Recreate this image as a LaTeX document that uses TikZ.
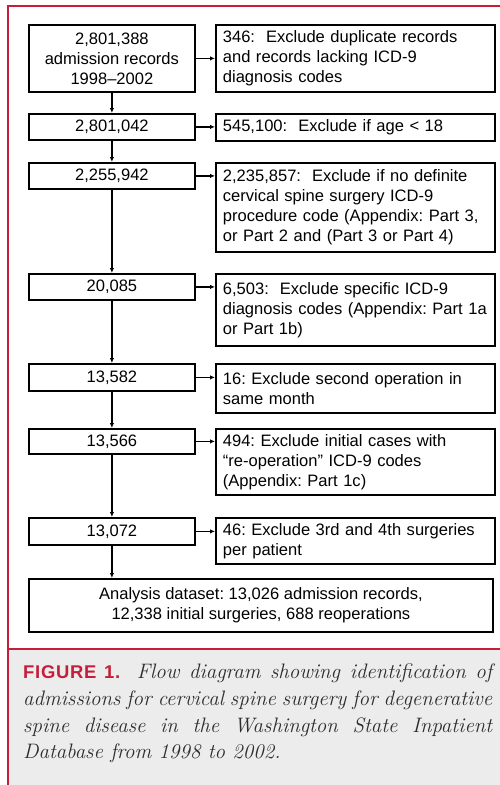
\documentclass[tikz,border=0pt]{standalone}
\usepackage{fontspec}
\setsansfont{Liberation Sans}
\newfontfamily\figfont[LetterSpace=4]{Liberation Sans}
\usetikzlibrary{arrows.meta}
\definecolor{framered}{RGB}{196,30,58}
\definecolor{capgray}{RGB}{236,236,236}
\definecolor{captext}{RGB}{45,45,45}
\begin{document}
\begin{tikzpicture}[
	                 x = 1bp,
	                 y = -1bp,
	   countbox/.style = {draw, line width=1.8bp, anchor=north west, align=center,
	                      minimum width=166bp, inner sep=0pt,
	                      font=\sffamily\frenchspacing\fontsize{16.6}{20}\selectfont},
	    exclbox/.style = {draw, line width=1.8bp, anchor=north west, align=left,
	                      text width=265bp, inner xsep=7bp, inner ysep=0pt,
	                      font=\sffamily\frenchspacing\fontsize{16.6}{20}\selectfont},
	       flow/.style = {-{Latex[length=5bp,width=4.5bp]}, line width=1.8bp}
	                     ]
	\useasboundingbox (0,0) rectangle (500,785);
	\fill[capgray] (9,650) rectangle (500,785);
	\draw[framered, line width=2bp] (500,6) -- (8,6) -- (8,785);
	\draw[framered, line width=1.5bp] (8,649) -- (500,649);

	\node[countbox, minimum height=67bp] (n1) at (28,24) {2,801,388\\admission records\\1998–2002};
	\node[countbox, minimum height=26bp] (n2) at (28,113) {2,801,042};
	\node[countbox, minimum height=26bp] (n3) at (28,162) {2,255,942};
	\node[countbox, minimum height=26bp] (n4) at (28,273) {20,085};
	\node[countbox, minimum height=27bp] (n5) at (28,363) {13,582};
	\node[countbox, minimum height=25bp] (n6) at (28,428) {13,566};
	\node[countbox, minimum height=27bp] (n7) at (28,517) {13,072};

	\node[exclbox, minimum height=67bp] (x1) at (215,24) {346:\ \ Exclude duplicate records\\and records lacking ICD-9\\diagnosis codes};
	\node[exclbox, minimum height=27bp] (x2) at (215,113) {545,100:\ \ Exclude if age < 18};
	\node[exclbox, minimum height=89bp] (x3) at (215,162) {2,235,857:\ \ Exclude if no definite\\cervical spine surgery ICD-9\\procedure code (Appendix: Part 3,\\or Part 2 and (Part 3 or Part 4)};
	\node[exclbox, minimum height=72bp] (x4) at (215,273) {6,503:\ \ Exclude specific ICD-9\\diagnosis codes (Appendix: Part 1a\\or Part 1b)};
	\node[exclbox, minimum height=49bp] (x5) at (215,363) {16: Exclude second operation in\\same month};
	\node[exclbox, minimum height=66bp] (x6) at (215,428) {494: Exclude initial cases with\\“re-operation” ICD-9 codes\\(Appendix: Part 1c)};
	\node[exclbox, minimum height=46bp] (x7) at (215,517) {46: Exclude 3rd and 4th surgeries\\per patient};

	\node[countbox, minimum width=464bp, minimum height=53bp] (final) at (28,578) {Analysis dataset: 13,026 admission records,\\12,338 initial surgeries, 688 reoperations};

	\foreach \i in {1,...,7}
		\draw[flow] (n\i.east) -- (n\i.east -| x\i.west);
	\foreach \i/\j in {1/2,2/3,3/4,4/5,5/6,6/7}
		\draw[flow] (n\i) -- (n\j);
	\draw[flow] (n7) -- (n7 |- final.north);

	\node[anchor=north west, text width=469bp, align=justify, inner sep=0pt, text=captext,
	      font=\itshape\fontsize{21}{26.7}\selectfont] (caption) at (23,664)
	     {{\upshape\figfont\bfseries\fontsize{18.5}{26.7}\selectfont\color{framered}FIGURE 1.} Flow diagram showing identification of\linebreak
	      admissions for cervical spine surgery for degenerative\linebreak
	      spine disease in the Washington State Inpatient\linebreak
	      Database from 1998 to 2002.};
\end{tikzpicture}
\end{document}
